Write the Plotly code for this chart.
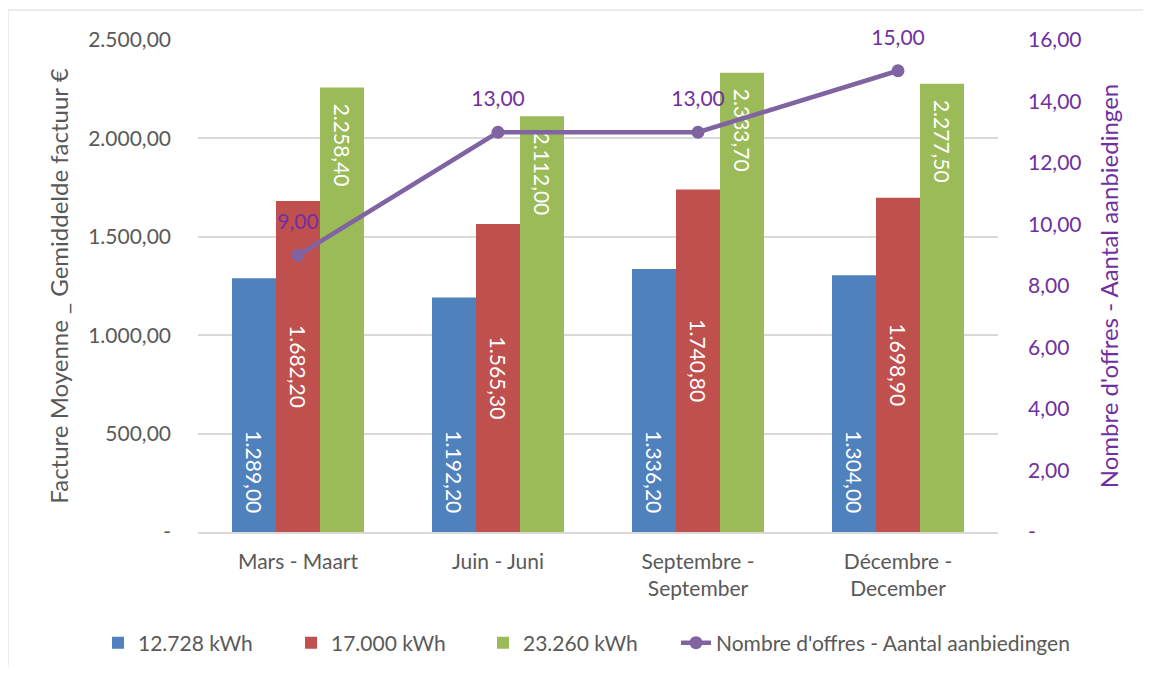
import plotly.graph_objects as go

categories = ["Mars - Maart", "Juin - Juni", "Septembre -<br>September", "Décembre -<br>December"]
series_names = ["12.728 kWh", "17.000 kWh", "23.260 kWh"]
blue_vals = [1289.00, 1192.20, 1336.20, 1304.00]
red_vals = [1682.20, 1565.30, 1740.80, 1698.90]
green_vals = [2258.40, 2112.00, 2333.70, 2277.50]
line_name = "Nombre d'offres - Aantal aanbiedingen"
offers = [9, 13, 13, 15]

left_ticks = [0, 500, 1000, 1500, 2000, 2500]
right_ticks = [0, 2, 4, 6, 8, 10, 12, 14, 16]


def nl(v):
    if v == 0:
        return "-"
    s = f"{v:,.2f}"
    return s.replace(",", "X").replace(".", ",").replace("X", ".")


FONT = "Lato"
GRAY = "#595959"
PURPLE = "#7030A0"

# figure geometry (page has an 8px body margin)
W, H = 1135, 659
ML, MR, MT = 190, 145, 32
MB = H - 524
PW, PH = W - ML - MR, H - MT - MB


def px(xpage):
    return (xpage - 8 - ML) / PW


def py(ypage):
    return (H - MB - (ypage - 8)) / PH


EM = "\u2003"
fig = go.Figure()
bar_specs = [
    (series_names[0], blue_vals, "#4F81BD", "start", "", EM, "legend"),
    (series_names[1], red_vals, "#C0504D", "middle", "", "", "legend2"),
    (series_names[2], green_vals, "#9BBB59", "end", "\u2002\u2009", "", "legend3"),
]
for name, vals, col, anchor, pre, post, lg in bar_specs:
    fig.add_trace(go.Bar(
        x=categories, y=vals, name=name, legend=lg,
        marker=dict(color=col, line=dict(width=0)),
        text=[pre + nl(v) + post for v in vals], textposition="inside",
        insidetextanchor=anchor, textangle=90,
        textfont=dict(color="white", size=21, family=FONT),
        constraintext="none",
    ))

fig.add_trace(go.Scatter(
    x=categories, y=offers, name=line_name, yaxis="y2", legend="legend4",
    mode="lines+markers", cliponaxis=False,
    line=dict(color="#8064A2", width=4.5),
    marker=dict(size=13, color="#8064A2"),
))
# data labels for the line (invisible larger marker gives the label offset)
fig.add_trace(go.Scatter(
    x=categories, y=offers, yaxis="y2", showlegend=False, hoverinfo="skip",
    mode="markers+text", cliponaxis=False,
    marker=dict(size=32, color="rgba(0,0,0,0)"),
    text=[nl(v) for v in offers], textposition="top center",
    textfont=dict(color=PURPLE, size=21, family=FONT),
))

legend_common = dict(orientation="h", xanchor="left", yanchor="middle",
                     y=py(643), font=dict(size=21, color=GRAY, family=FONT),
                     itemwidth=30, bgcolor="rgba(0,0,0,0)")
text_starts = [138, 331, 523, 716]

fig.update_layout(
    width=W, height=H, showlegend=True,
    paper_bgcolor="white", plot_bgcolor="white",
    margin=dict(l=ML, r=MR, t=MT, b=MB, autoexpand=False),
    barmode="group", bargap=0.34, bargroupgap=0,
    font=dict(family=FONT, color=GRAY, size=21),
    xaxis=dict(showline=True, linecolor="#D9D9D9", linewidth=1.5,
               tickfont=dict(size=21, color=GRAY), ticks="",
               ticklabelstandoff=10, automargin=False),
    yaxis=dict(range=[0, 2500], tickvals=left_ticks,
               ticktext=[nl(v) for v in left_ticks],
               gridcolor="#D9D9D9", gridwidth=1.5, zeroline=False,
               tickfont=dict(size=21, color=GRAY), ticklabelstandoff=26,
               automargin=False,
               title=dict(text="Facture Moyenne _ Gemiddelde factuur €",
                          font=dict(size=24, color=GRAY), standoff=12)),
    yaxis2=dict(range=[0, 16], overlaying="y", side="right",
                tickvals=right_ticks, ticktext=[nl(v) for v in right_ticks],
                showgrid=False, zeroline=False,
                tickfont=dict(size=21, color=PURPLE), ticklabelstandoff=29,
                automargin=False,
                title=dict(text=line_name, font=dict(size=24, color=PURPLE), standoff=20)),
    legend=dict(x=px(text_starts[0] - 40), **legend_common),
    legend2=dict(x=px(text_starts[1] - 40), **legend_common),
    legend3=dict(x=px(text_starts[2] - 40), **legend_common),
    legend4=dict(x=px(text_starts[3] - 40), **legend_common),
    shapes=[dict(type="rect", xref="paper", yref="paper",
                 x0=px(8), x1=px(1150),
                 y0=-MB / PH - 0.05, y1=py(10),
                 line=dict(color="#D9D9D9", width=1), layer="below")],
)

fig.write_html("out.html")
